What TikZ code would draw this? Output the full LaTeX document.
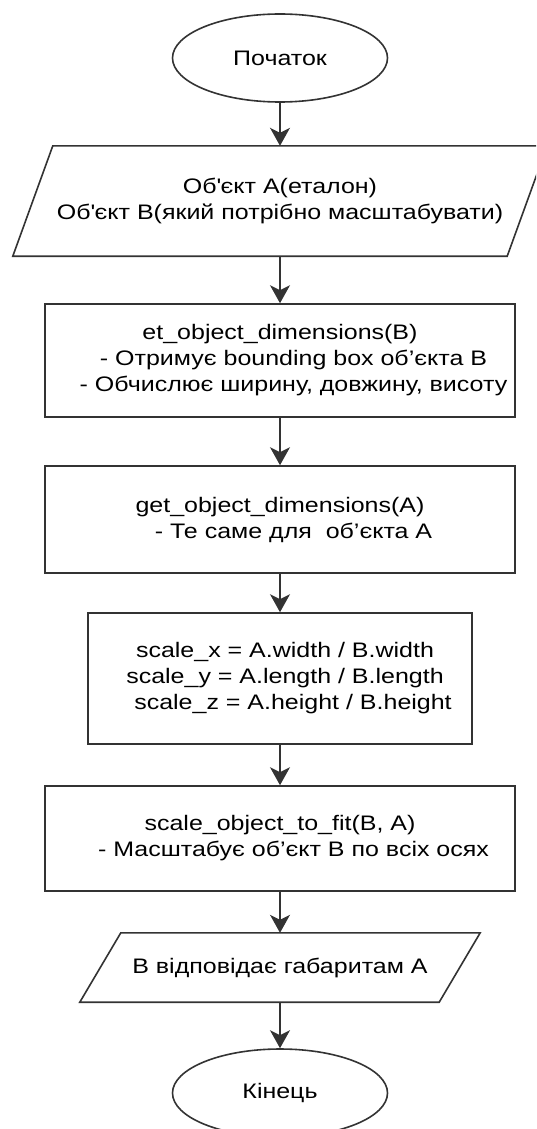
\documentclass[tikz,border=0pt]{standalone}
\usepackage{fontspec}
\setmainfont{Liberation Sans}[FakeStretch=1.19]
\usetikzlibrary{shapes.geometric,arrows.meta}
\definecolor{linec}{HTML}{333333}
\begin{document}
\begin{tikzpicture}[x=1pt,y=-1pt,
  every node/.style={font=\fontsize{21}{26}\selectfont, text=black, inner sep=0pt, align=center},
  term/.style={ellipse, draw=linec, line width=1.6pt, minimum width=215pt, minimum height=88pt},
  procbox/.style={rectangle, draw=linec, line width=1.6pt},
  iobox/.style={rectangle},
  flow/.style={draw=linec, line width=1.6pt, -{Stealth[length=18pt,width=20pt,inset=5pt]}}
]
\useasboundingbox (0,0) rectangle (536,1129);
\clip (0,0) rectangle (536,1129);
\fill[white] (0,0) rectangle (536,1129);

\node[term] (start) at (280,58) {Початок};

\node[iobox, minimum width=534pt, minimum height=110pt] (in) at (280,201)
  {Об\textquotesingle єкт А(еталон)\\ Об\textquotesingle єкт В(який потрібно масштабувати)};
\draw[linec, line width=1.6pt] (in.south west) -- ([xshift=40pt]in.north west) -- (in.north east) -- ([xshift=-40pt]in.south east) -- cycle;

\node[procbox, minimum width=470pt, minimum height=113pt] (dimB) at (280,360.5)
  {et\_object\_dimensions(B)\\ \hspace*{27pt}- Отримує bounding box об’єкта В\\ \hspace*{27pt}- Обчислює ширину, довжину, висоту};

\node[procbox, minimum width=470pt, minimum height=107pt] (dimA) at (280,519.5)
  {get\_object\_dimensions(A)\\ \hspace*{27pt}- Те саме для\ \ об’єкта А};

\node[procbox, minimum width=384pt, minimum height=131pt] (scale) at (280,678.5)
  {\hspace*{10pt}scale\_x = A.width / B.width\\ \hspace*{10pt}scale\_y = A.length / B.length\\ \hspace*{26pt}scale\_z = A.height / B.height};

\node[procbox, minimum width=470pt, minimum height=105pt] (fit) at (280,838.5)
  {scale\_object\_to\_fit(B, A)\\ \hspace*{27pt}- Масштабує об’єкт В по всіх осях};

\node[iobox, minimum width=400pt, minimum height=69pt] (out) at (280,967.5)
  {В відповідає габаритам А};
\draw[linec, line width=1.6pt] (out.south west) -- ([xshift=41pt]out.north west) -- (out.north east) -- ([xshift=-41pt]out.south east) -- cycle;

\node[term] (end) at (280,1093) {Кінець};

\draw[flow] (start) -- (in);
\draw[flow] (in) -- (dimB);
\draw[flow] (dimB) -- (dimA);
\draw[flow] (dimA) -- (scale);
\draw[flow] (scale) -- (fit);
\draw[flow] (fit) -- (out);
\draw[flow] (out) -- (end);
\end{tikzpicture}
\end{document}
